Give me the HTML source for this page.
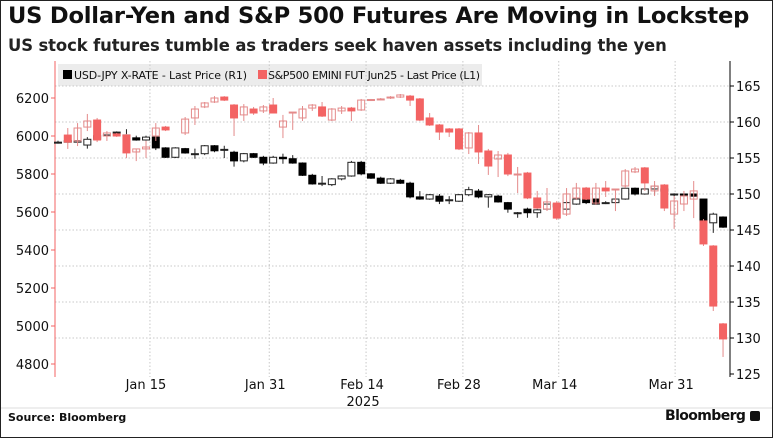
<!DOCTYPE html>
<html><head><meta charset="utf-8"><style>
body{margin:0;background:#fff;}
#wrap{position:relative;width:771px;height:436px;border:1px solid #222;overflow:hidden;font-family:"DejaVu Sans","Liberation Sans",sans-serif;background:#fff}
.t{position:absolute;white-space:nowrap;color:#111}
</style></head><body>
<div id="wrap">
<div class="t" style="left:7px;top:2px;font-size:22.6px;font-weight:bold;letter-spacing:-0.2px">US Dollar-Yen and S&amp;P 500 Futures Are Moving in Lockstep</div>
<div class="t" style="left:7px;top:35px;font-size:16.4px;font-weight:bold;color:#222;letter-spacing:-0.1px">US stock futures tumble as traders seek haven assets including the yen</div>
<svg id="chart" width="771" height="436" style="position:absolute;left:0;top:0" font-family="DejaVu Sans, Liberation Sans, sans-serif"></svg>
<div class="t" style="left:7px;top:410px;font-size:11px;font-weight:bold">Source: Bloomberg</div>
<div class="t" style="left:664px;top:407px;font-size:14px;font-weight:bold;letter-spacing:-0.6px">Bloomberg <span style="display:inline-block;width:10px;height:10px;background:#111;border-radius:2px;vertical-align:-1px"></span></div>
</div>
<script>
const spxOpen=[null,6005,5974,6047,6084,6000,6011,6005,5916,5932,6000,6047,null,6016,6095,6153,6179,6205,6163,6111,6142,6132,6163,6047,6121,6095,6147,6153,6084,6132,6147,6137,6189,6192,6200,6205,6210,6195,6095,6058,6037,6037,5937,6016,5921,5879,5900,5795,5805,5674,5616,5647,5589,5674,5726,5647,5726,5716,5737,5811,5832,5711,5742,5589,5642,5668,5553,5421,5011];
const spxHigh=[null,6042,6068,6116,6095,6026,6016,6011,5932,5974,6068,6053,null,6100,6158,6179,6210,6210,6168,6168,6153,6163,6200,6111,6126,6158,6168,6179,6147,6158,6153,6195,6195,6200,6210,6221,6216,6200,6121,6063,6042,6042,6021,6058,5932,5921,5911,5837,5811,5711,5726,5658,5726,5753,5732,5753,5763,5721,5826,5837,5837,5763,5747,5684,5711,5763,5563,5426,5016];
const spxLow=[null,5932,5947,6026,5968,5974,5995,5884,5868,5884,5974,6026,null,6005,6058,6147,6174,6184,6000,6079,6111,6121,6121,5989,6032,6079,6132,6100,6079,6116,6079,6132,6184,6189,6195,6200,6158,6079,6053,5979,5995,5926,5905,5853,5795,5784,5789,5700,5668,5616,5605,5558,5579,5663,5663,5637,5679,5605,5726,5805,5711,5684,5605,5511,5605,5568,5421,5079,4837];
const spxClose=[null,5968,6042,6079,5979,6016,6000,5911,5932,5942,6042,6032,null,6089,6142,6174,6200,6189,6095,6153,6121,6153,6121,6079,6126,6142,6163,6105,6142,6147,6132,6189,6192,6195,6205,6216,6189,6084,6058,6021,6021,5932,6016,5916,5842,5900,5800,5800,5674,5621,5653,5568,5695,5726,5668,5726,5711,5721,5816,5826,5753,5737,5621,5658,5684,5711,5432,5105,4932];
const jpyOpen=[157.2,157.4,157.2,156.8,157.6,158.2,158.5,158.2,157.8,157.5,157.9,156.4,155.1,156.3,155.6,155.6,156.7,156.2,155.8,154.6,155.6,155.1,154.3,155.1,154.9,154.3,152.6,151.5,151.3,152.1,152.5,154.4,152.8,152.2,151.5,151.9,151.5,149.6,149.3,149.7,149.2,149.0,149.9,150.4,149.6,149.7,148.8,147.4,147.9,147.4,147.9,148.2,147.9,148.6,149.3,149.3,148.8,148.8,149.3,150.8,150.0,150.7,150.4,149.9,150.0,150.0,149.3,146.0,146.8];
const jpyHigh=[157.4,157.5,157.5,157.9,158.2,158.3,158.7,159.0,158.1,158.1,158.1,156.5,156.5,156.4,156.3,156.8,156.8,156.7,156.0,155.7,155.7,155.3,155.3,155.6,155.4,154.4,152.8,152.5,152.2,152.6,154.6,154.6,152.9,152.4,152.2,152.1,151.7,150.4,150.0,150.0,149.7,150.0,151.0,150.7,150.0,149.9,148.9,147.5,148.1,147.9,148.8,148.8,149.0,149.4,149.4,149.4,149.0,149.4,150.9,150.9,150.8,151.3,150.8,150.1,150.1,150.1,149.3,147.4,146.9];
const jpyLow=[157.0,157.1,157.1,156.3,157.5,158.0,158.4,158.0,157.4,157.4,156.1,155.0,155.0,155.6,154.9,155.4,155.8,155.0,153.8,154.4,155.0,154.0,154.2,154.2,154.2,152.5,151.3,151.1,151.1,151.9,152.4,152.6,152.1,151.4,151.4,151.4,149.4,149.2,149.2,148.6,148.6,148.9,149.7,149.4,148.1,148.8,147.4,146.7,146.7,146.7,147.8,148.1,147.6,148.5,148.6,148.5,148.6,148.6,149.2,149.8,149.9,149.9,150.3,149.7,149.7,149.6,146.0,144.6,145.3];
const jpyClose=[157.2,157.2,157.4,157.6,158.1,158.2,158.6,158.1,157.5,157.9,156.4,155.1,156.4,155.7,155.6,156.7,156.0,156.2,154.6,155.6,155.1,154.3,155.1,154.9,154.3,152.6,151.4,151.5,152.1,152.5,154.4,152.8,152.2,151.5,152.1,151.5,149.6,149.3,149.9,149.0,149.2,149.9,150.6,149.6,149.9,148.9,147.9,147.4,147.4,147.8,148.6,148.6,148.8,149.3,148.8,148.6,148.8,149.3,150.8,150.0,150.7,151.1,150.7,150.0,149.9,149.7,146.2,147.2,145.4];
const leftTicks=[4800,5000,5200,5400,5600,5800,6000,6200];
const rightTicks=[125,130,135,140,145,150,155,160,165];
const dateLabels=["Jan 15","Jan 31","Feb 14","Feb 28","Mar 14","Mar 31"];
const dateIdx=[9.4,21.6,31.5,41.4,51.2,63.1];

const svg=document.getElementById('chart');
const NS='http://www.w3.org/2000/svg';
function el(tag,attrs,parent){const e=document.createElementNS(NS,tag);for(const k in attrs)e.setAttribute(k,attrs[k]);(parent||svg).appendChild(e);return e;}
const L=54,R=729,T=60,B=376;
const xS=i=>57+9.78*i;
const yL=v=>135-(v-6000)*0.19;
const yR=v=>193-(v-150)*7.2;

const legend=el('rect',{x:57,y:63,width:424,height:22,fill:'#ececec'});


const lg1=el('rect',{x:62,y:69,width:9,height:9,fill:'#000'});


const lt1=el('text',{x:73,y:78,'font-size':11,fill:'#111','textLength':173});lt1.textContent='USD-JPY X-RATE - Last Price (R1)';


const lg2=el('rect',{x:257,y:69,width:9,height:9,fill:'#f36363'});


const lt2=el('text',{x:267,y:78,'font-size':11,fill:'#111','textLength':212});lt2.textContent='S&P500 EMINI FUT Jun25 - Last Price (L1)';



rightTicks.forEach(v=>{const y=yR(v);if(v<165&&v>125){const g=el('line',{x1:L,x2:R,y1:y,y2:y,stroke:'#c8c8c8','stroke-dasharray':'1.5,2'});}
 const t=el('line',{x1:R,x2:R+4,y1:y,y2:y,stroke:'#000'});
 const tx=el('text',{x:R+6,y:y+5,'font-size':13,fill:'#111'});tx.textContent=v;});
const gt=el('line',{x1:L,x2:R,y1:yR(165),y2:yR(165),stroke:'#c8c8c8','stroke-dasharray':'1.5,2'});

leftTicks.forEach(v=>{const y=yL(v);
 const t=el('line',{x1:L-4,x2:L,y1:y,y2:y,stroke:'#f36363'});
 const tx=el('text',{x:L-6,y:y+5,'font-size':13,fill:'#111','text-anchor':'end'});tx.textContent=v;});
dateLabels.forEach((d,k)=>{const x=xS(dateIdx[k]);
 const g=el('line',{x1:x,x2:x,y1:T,y2:B,stroke:'#c8c8c8','stroke-dasharray':'1.5,2'});
 const tx=el('text',{x:x-4,y:388,'font-size':13,fill:'#111','text-anchor':'middle'});tx.textContent=d;});
const yr=el('text',{x:xS(31.5)-3,y:405,'font-size':13,fill:'#111','text-anchor':'middle'});yr.textContent='2025';

const la=el('line',{x1:L,x2:L,y1:T,y2:B,stroke:'#f36363'});
const ra=el('line',{x1:R,x2:R,y1:T,y2:B,stroke:'#000'});
const sep=el('line',{x1:0,x2:771,y1:407,y2:407,stroke:'#ddd'});

function candle(i,o,h,l,c,ys,up,down,hollowFill,wick,name){
 if(o==null)return;
 const x=xS(i),w=7;
 const g=el('g',{});
 
 
 const top=Math.min(ys(o),ys(c)),bot=Math.max(ys(o),ys(c));
 el('line',{x1:x,x2:x,y1:ys(h),y2:ys(l),stroke:wick,'stroke-width':1},g);
 const isUp=c>=o;
 el('rect',{x:x-w/2,y:top,width:w,height:Math.max(bot-top,1),fill:isUp?hollowFill:down,stroke:isUp?up:down,'stroke-width':1},g);
}
jpyOpen.forEach((o,i)=>candle(i,o,jpyHigh[i],jpyLow[i],jpyClose[i],yR,'#222','#000','#fff','#222','usdjpy-candle'));
spxOpen.forEach((o,i)=>candle(i,o,spxHigh[i],spxLow[i],spxClose[i],yL,'#e48a8a','#f36363','none','#e48a8a','sp500-candle'));
</script>
</body></html>
